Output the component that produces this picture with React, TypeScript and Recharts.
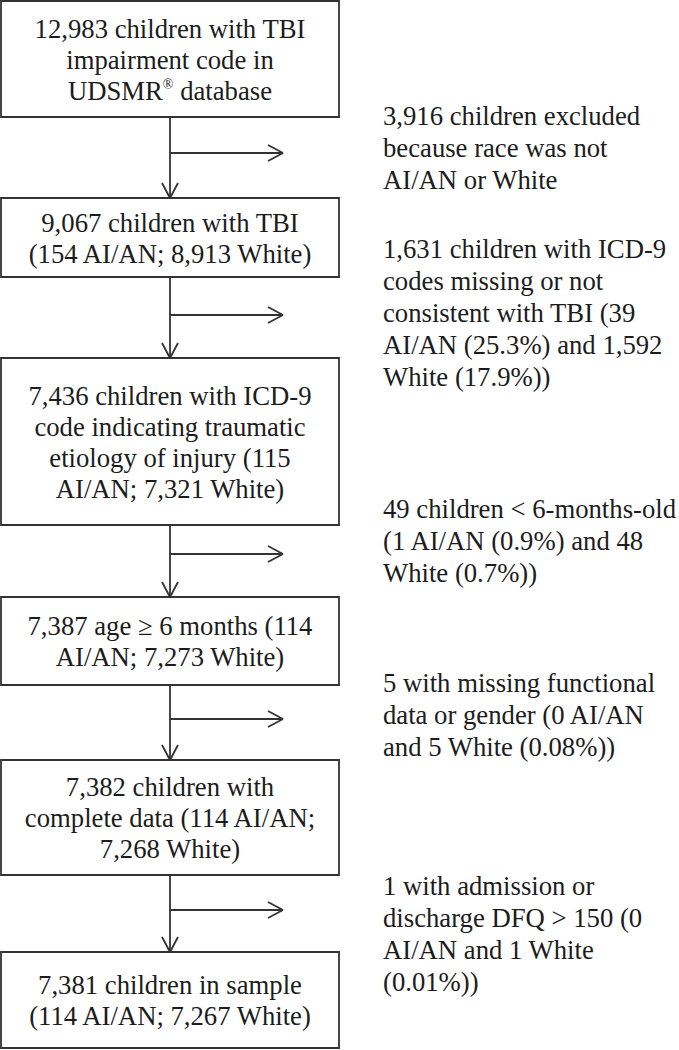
import React from "react";
import { ComposedChart, XAxis, YAxis, Scatter, ReferenceArea, ReferenceLine } from "recharts";

// the flowchart sits flush in the page corner
if (typeof document !== "undefined") document.body.style.margin = "0";

// box contents, top to bottom
const STEP_LABELS: string[][] = [
  ["12,983 children with TBI", "impairment code in", "UDSMR® database"],
  ["9,067 children with TBI", "(154 AI/AN; 8,913 White)"],
  ["7,436 children with ICD-9", "code indicating traumatic", "etiology of injury (115", "AI/AN; 7,321 White)"],
  ["7,387 age ≥ 6 months (114", "AI/AN; 7,273 White)"],
  ["7,382 children with", "complete data (114 AI/AN;", "7,268 White)"],
  ["7,381 children in sample", "(114 AI/AN; 7,267 White)"],
];

// exclusion notes beside each branch
const EXCLUSION_LABELS: string[][] = [
  ["3,916 children excluded", "because race was not", "AI/AN or White"],
  ["1,631 children with ICD-9", "codes missing or not", "consistent with TBI (39", "AI/AN (25.3%) and 1,592", "White (17.9%))"],
  ["49 children < 6-months-old", "(1 AI/AN (0.9%) and 48", "White (0.7%))"],
  ["5 with missing functional", "data or gender (0 AI/AN", "and 5 White (0.08%))"],
  ["1 with admission or", "discharge DFQ > 150 (0", "AI/AN and 1 White", "(0.01%))"],
];

// layout (page pixels)
const W = 679;
const H = 1050;
const BOX_LEFT = 1;
const BOX_RIGHT = 339;
const STEM_X = 170;
const BRANCH_END = 283;
const NOTE_X = 383;
const BOX_TOP = [1, 198, 358, 597, 760, 952];
const BOX_BOTTOM = [117, 277, 525, 685, 875, 1048];
const BRANCH_Y = [153, 315, 554, 719, 910];
const NOTE_FIRST_BASELINE = [125, 258, 518, 692, 895];

const INK = "#333";
const TEXT = "#1c1c1c";
const FONT = "'Liberation Serif', 'Times New Roman', serif";
const FS = 26.7;

const boxData = STEP_LABELS.map((lines, i) => ({ x: STEM_X, y: (BOX_TOP[i] + BOX_BOTTOM[i]) / 2, lines }));
const noteData = EXCLUSION_LABELS.map((lines, i) => ({ x: NOTE_X, y: NOTE_FIRST_BASELINE[i], lines }));

function renderLine(line: string) {
  if (!line.includes("®")) return line;
  const [a, b] = line.split("®");
  return (
    <>
      <tspan>{a}</tspan>
      <tspan fontSize={14} dy={-11}>®</tspan>
      <tspan dy={11}>{b}</tspan>
    </>
  );
}

const BoxText = (props: any) => {
  const { cx, cy, payload } = props;
  const n = payload.lines.length;
  return (
    <g>
      {payload.lines.map((l: string, i: number) => (
        <text key={i} x={cx} y={cy + (i - (n - 1) / 2) * 31 + 9.5} textAnchor="middle"
          fontFamily={FONT} fontSize={FS} fill={TEXT}>
          {renderLine(l)}
        </text>
      ))}
    </g>
  );
};

const NoteText = (props: any) => {
  const { cx, cy, payload } = props;
  return (
    <g>
      {payload.lines.map((l: string, i: number) => (
        <text key={i} x={cx} y={cy + i * 32} textAnchor="start"
          fontFamily={FONT} fontSize={FS} fill={TEXT}>
          {l}
        </text>
      ))}
    </g>
  );
};

const seg = (x1: number, y1: number, x2: number, y2: number, key: string) => (
  <ReferenceLine key={key} segment={[{ x: x1, y: y1 }, { x: x2, y: y2 }]}
    stroke={INK} strokeWidth={1.8} ifOverflow="visible" />
);

export default function App() {
  const connectors: React.ReactNode[] = [];
  BRANCH_Y.forEach((by, i) => {
    const top = BOX_BOTTOM[i];
    const tip = BOX_TOP[i + 1];
    connectors.push(seg(STEM_X, top, STEM_X, tip, `v${i}`));
    connectors.push(seg(STEM_X - 8, tip - 15, STEM_X, tip, `vl${i}`));
    connectors.push(seg(STEM_X + 8, tip - 15, STEM_X, tip, `vr${i}`));
    connectors.push(seg(STEM_X, by, BRANCH_END, by, `h${i}`));
    connectors.push(seg(BRANCH_END - 15, by - 8, BRANCH_END, by, `hu${i}`));
    connectors.push(seg(BRANCH_END - 15, by + 8, BRANCH_END, by, `hd${i}`));
  });

  return (
    <div style={{ width: W, height: H, background: "#fff" }}>
      <ComposedChart width={W} height={H} margin={{ top: 0, right: 0, bottom: 0, left: 0 }}>
        <XAxis type="number" dataKey="x" domain={[0, W]} allowDataOverflow hide />
        <YAxis type="number" dataKey="y" domain={[0, H]} reversed allowDataOverflow hide />
        {STEP_LABELS.map((_, i) => (
          <ReferenceArea key={`b${i}`} x1={BOX_LEFT} x2={BOX_RIGHT} y1={BOX_TOP[i]} y2={BOX_BOTTOM[i]}
            fill="#fff" fillOpacity={0} stroke={INK} strokeWidth={1.8} strokeOpacity={1} ifOverflow="visible" />
        ))}
        {connectors}
        <Scatter data={boxData} shape={BoxText} isAnimationActive={false} />
        <Scatter data={noteData} shape={NoteText} isAnimationActive={false} />
      </ComposedChart>
    </div>
  );
}
